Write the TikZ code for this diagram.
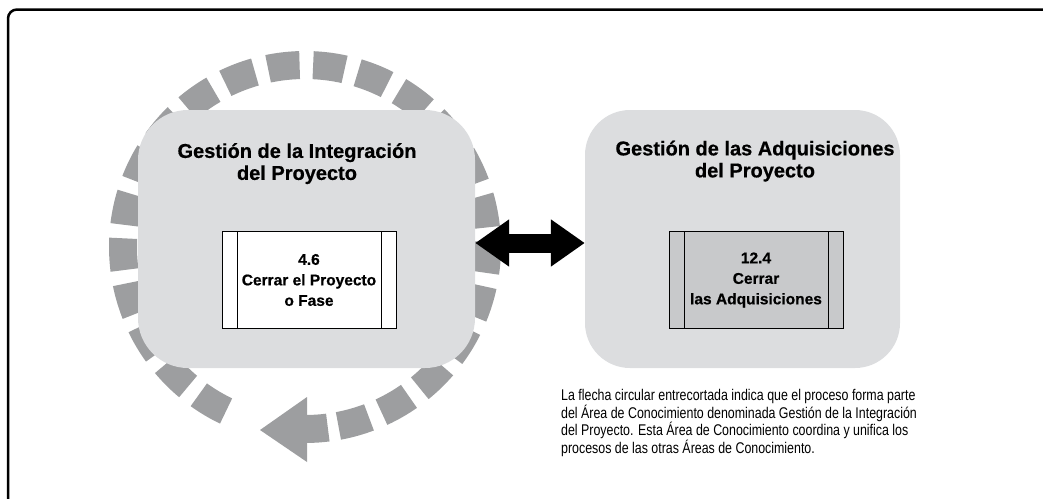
\documentclass[tikz,border=0pt]{standalone}
\usepackage{fontspec}
\setmainfont{Liberation Sans}[BoldFeatures={FakeBold=0.6}]
\newfontfamily\narrowfont{Liberation Sans}[FakeStretch=0.80]
\usetikzlibrary{positioning,arrows.meta}
\definecolor{areagray}{HTML}{DCDDDF}
\definecolor{loopgray}{HTML}{9D9EA0}
\definecolor{procgray}{HTML}{C8C9CB}

\begin{document}
\begin{tikzpicture}[x=1pt,y=-1pt,
  area/.style={fill=areagray,rounded corners=#1,inner sep=0pt},
  proc/.style={draw,line width=1pt,minimum width=174pt,minimum height=97pt,inner sep=0pt,
    align=center,font=\fontsize{15.5}{20.5}\selectfont\bfseries},
  areatitle/.style={align=center,inner sep=0pt,font=\fontsize{20}{22}\selectfont\bfseries}]
  \useasboundingbox (0,0) rectangle (1043,498);
  % outer frame, cut at right and bottom
  \draw[line width=2.5pt,rounded corners=9pt] (8,9.5) rectangle (1080,530);
  % dashed loop round the integration area
  \begin{scope}[shift={(305,247)}]
    \foreach \k in {0,...,22}{
      \pgfmathsetmacro\a{-239.3+14.26*\k}
      \fill[loopgray] (\a-5:196) arc[start angle=\a-5,end angle=\a+5,radius=196]
        -- (\a+5:168) arc[start angle=\a+5,end angle=\a-5,radius=168] -- cycle;
    }
    \fill[loopgray] (82.8:196) arc[start angle=82.8,end angle=89.6,radius=196]
      -- (89.6:168) arc[start angle=89.6,end angle=82.8,radius=168] -- cycle;
    \fill[loopgray] (2,150) -- (2,215) -- (-45,183) -- cycle;
  \end{scope}
  % the two knowledge areas
  \node[area=50pt,minimum width=337pt,minimum height=258pt] (intArea) at (306.5,239) {};
  \node[area=45pt,minimum width=315pt,minimum height=258pt] (adqArea) at (742.5,239) {};
  \node[areatitle,anchor=north] (intTitle) at (297,143) {Gestión de la Integración\\del Proyecto};
  \node[areatitle,anchor=north] (adqTitle) at (755,140.5) {Gestión de las Adquisiciones\\del Proyecto};
  % processes
  \node[proc,fill=white] (cierreProy) at (309,280) {4.6\\Cerrar el Proyecto\\o Fase};
  \node[proc,fill=procgray] (cierreAdq) at (756,280) {12.4\\Cerrar\\las Adquisiciones};
  \foreach \p in {cierreProy,cierreAdq}{
    \draw[line width=1pt] ([xshift=16pt]\p.north west) -- ([xshift=16pt]\p.south west);
    \draw[line width=1pt] ([xshift=-15pt]\p.north east) -- ([xshift=-15pt]\p.south east);
  }
  % link between the areas
  \draw[line width=19pt,{Triangle[length=34pt,width=45pt]}-{Triangle[length=34pt,width=45pt]}]
    ([yshift=-4pt]intArea.east) -- ([yshift=-4pt]adqArea.west);
  \node[anchor=north west,align=left,inner sep=0pt,font=\narrowfont\fontsize{15.5}{15.5}\selectfont] (nota) at (561,389)
    {La flecha circular entrecortada indica que el proceso forma parte\\
     del Área de Conocimiento denominada Gestión de la Integración\\
     del Proyecto. Esta Área de Conocimiento coordina y unifica los\\
     procesos de las otras Áreas de Conocimiento.};
\end{tikzpicture}
\end{document}
